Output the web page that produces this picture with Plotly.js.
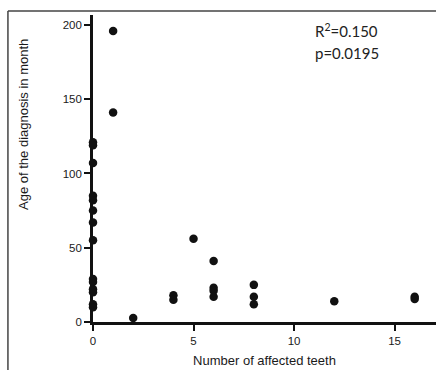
<!DOCTYPE html>
<html>
<head>
<meta charset="utf-8">
<script src="https://cdn.plot.ly/plotly-3.0.1.min.js"></script>
<style>html,body{margin:0;padding:0;background:#fff;}#chart{width:436px;height:370px;}</style>
</head>
<body>
<div id="chart"></div>
<script>
var teeth = [0,0,0,0,0,0,0,0,0,0,0,0,0,0, 1,1, 2, 4,4, 5, 6,6,6,6, 8,8,8, 12, 16,16];
var ageMonths = [121,119,107,85,82,75,67,55,29,27,22,20,12,10, 196,141, 2.7, 18,15, 56, 41,23,21,17, 25,17,12, 14, 17,15.5];
var xTicks = [0,5,10,15];
var yTicks = [0,50,100,150,200];
var xTitle = 'Number of affected teeth';
var yTitle = 'Age of the diagnosis in month';
var statsText = ["R<sup>2</sup>=0.150", "p=0.0195"];

var trace = {
  x: teeth, y: ageMonths, type: 'scatter', mode: 'markers',
  marker: {color: '#111', size: 8.5},
  cliponaxis: false, hoverinfo: 'none'
};

var axisFont = {family: 'Liberation Sans, Arial, sans-serif', size: 11.5, color: '#1a1a1a'};
var titleFont = {family: 'Liberation Sans, Arial, sans-serif', size: 13, color: '#1a1a1a'};
var layout = {
  width: 436, height: 370,
  margin: {l: 93, r: 0, t: 15, b: 48, pad: 0},
  paper_bgcolor: '#fff', plot_bgcolor: '#fff',
  showlegend: false,
  xaxis: {
    range: [0, 17.06], tickvals: xTicks, ticktext: xTicks.map(String),
    showgrid: false, zeroline: false, showline: true, linecolor: '#111', linewidth: 2.8,
    ticks: 'outside', ticklen: 6, tickwidth: 2, tickcolor: '#111',
    tickfont: axisFont,
    title: {text: xTitle, font: titleFont, standoff: 11}
  },
  yaxis: {
    range: [0, 206.7], tickvals: yTicks, ticktext: yTicks.map(String),
    showgrid: false, zeroline: false, showline: true, linecolor: '#111', linewidth: 2.8,
    ticks: 'outside', ticklen: 6, tickwidth: 2, tickcolor: '#111',
    tickfont: axisFont
  },
  annotations: [
    {xref: 'paper', yref: 'paper', x: -0.201, y: 0.642, xanchor: 'center', yanchor: 'middle', showarrow: false,
     textangle: -90, text: yTitle, font: titleFont},
    {xref: 'paper', yref: 'paper', x: 0.641, y: 0.948, xanchor: 'left', yanchor: 'middle', showarrow: false,
     text: statsText[0], font: {family: 'Lato, Open Sans, sans-serif', size: 15, color: '#222'}},
    {xref: 'paper', yref: 'paper', x: 0.641, y: 0.876, xanchor: 'left', yanchor: 'middle', showarrow: false,
     text: statsText[1], font: {family: 'Lato, Open Sans, sans-serif', size: 15, color: '#222'}}
  ],
  shapes: [
    {type: 'line', xref: 'paper', yref: 'paper', x0: -0.248, x1: 1.05, y0: 1.013, y1: 1.013, line: {color: '#444', width: 1.5}},
    {type: 'line', xref: 'paper', yref: 'paper', x0: -0.248, x1: -0.248, y0: 1.013, y1: -0.2, line: {color: '#444', width: 1.5}}
  ]
};

Plotly.newPlot('chart', [trace], layout, {staticPlot: true, displayModeBar: false});
</script>
</body>
</html>
